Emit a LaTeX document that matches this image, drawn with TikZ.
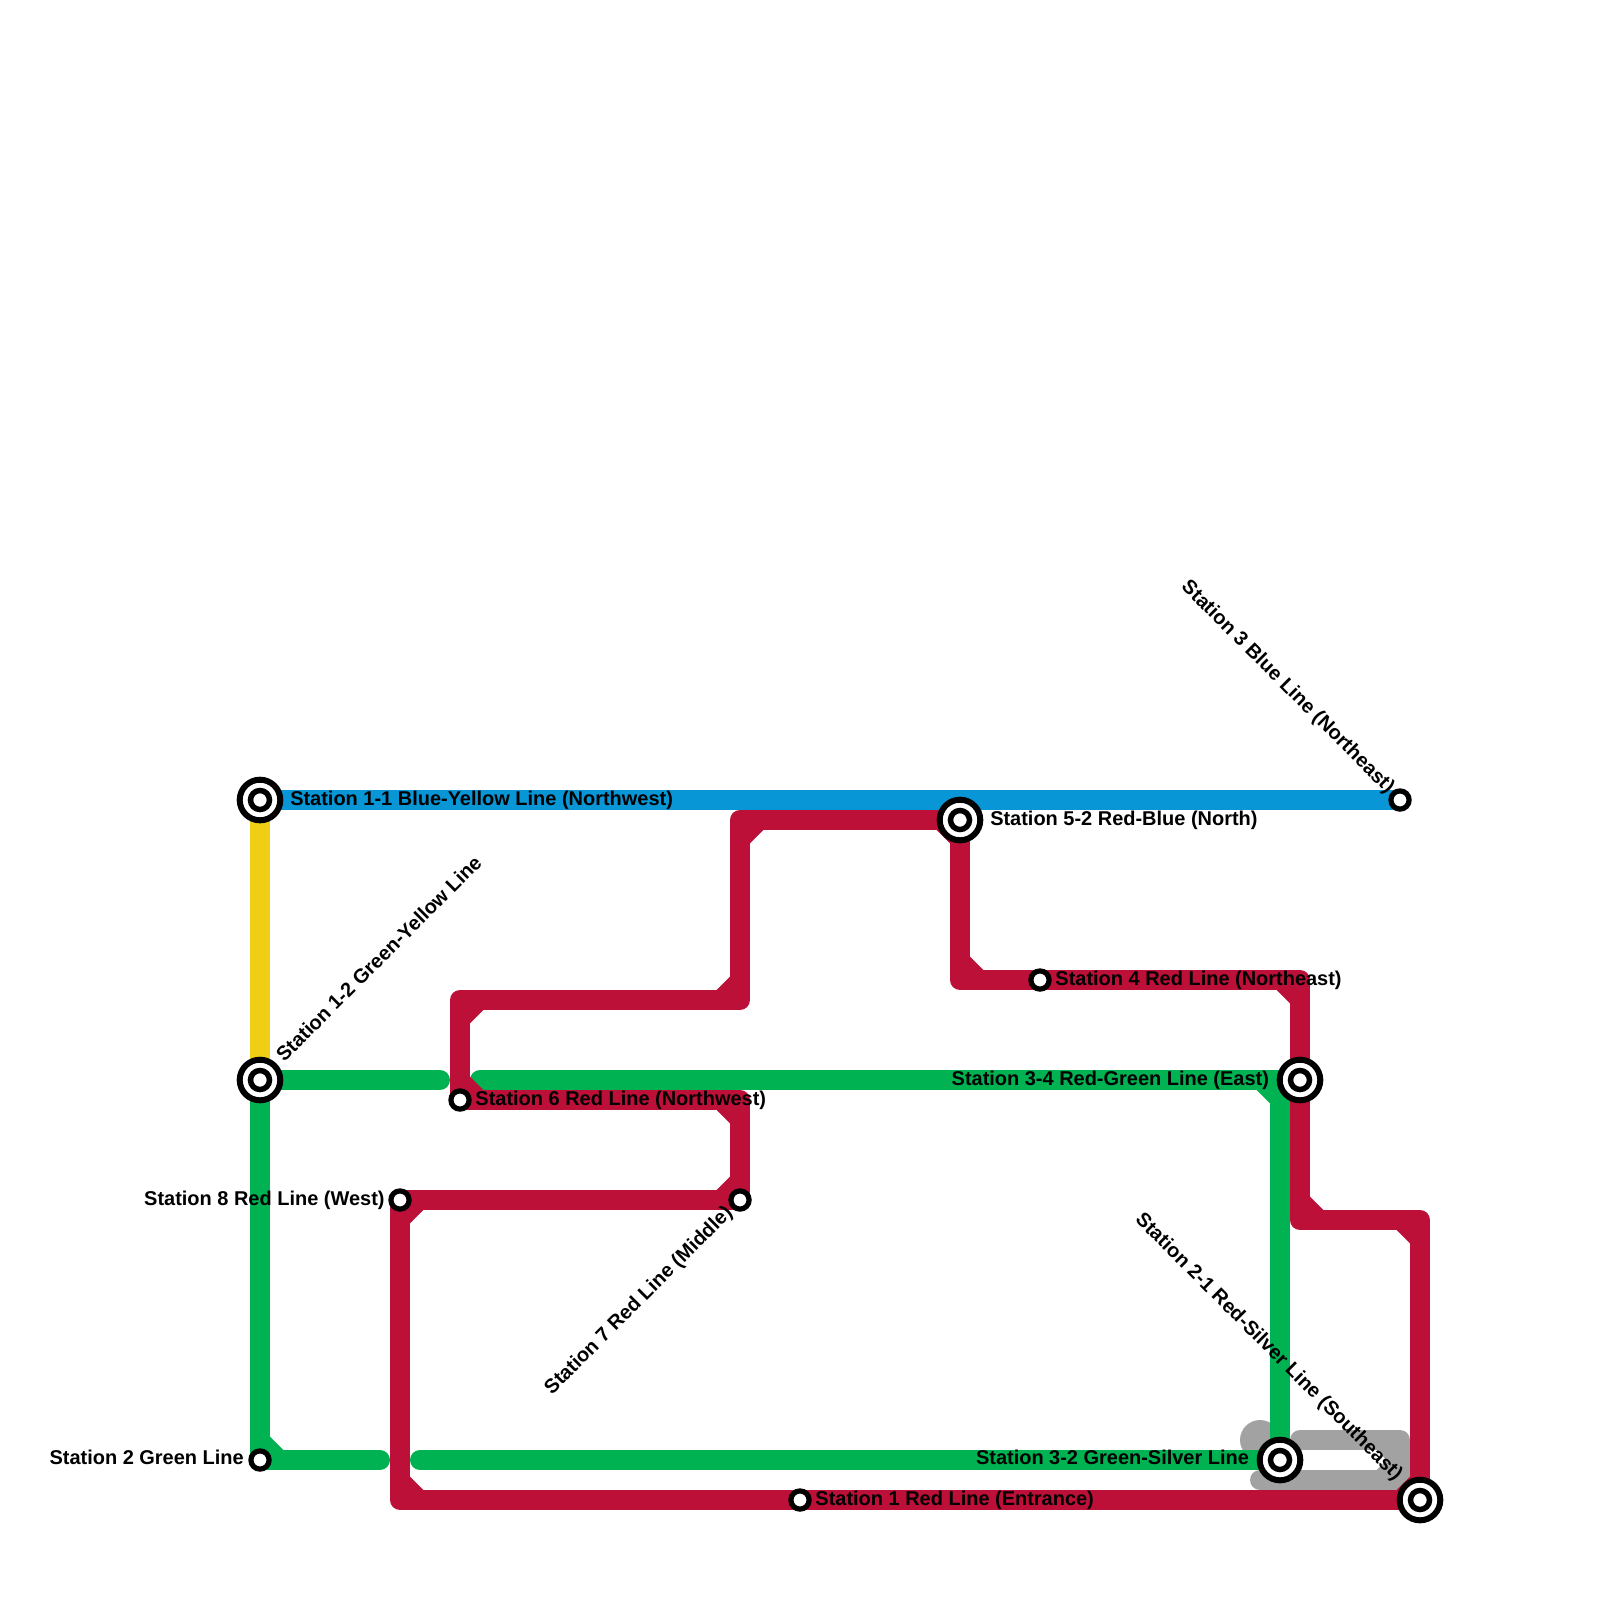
\documentclass[tikz,border=0pt]{standalone}
\usepackage{fontspec}
\setmainfont{Liberation Sans}
\usetikzlibrary{positioning,backgrounds}

\begin{document}
\begin{tikzpicture}[x=.25cm,y=-.25cm]
\definecolor{redline}{HTML}{BD1038}
\definecolor{greenline}{HTML}{00B251}
\definecolor{blueline}{HTML}{0896D7}
\definecolor{yellowline}{HTML}{F0CE15}
\definecolor{silverline}{HTML}{A2A2A2}
\tikzstyle{route}=[line width=.25cm, line join=round, line cap=round]
\tikzstyle{hub}=[circle, draw=black, fill=white, inner sep=0pt, line width=.075cm, minimum size=.5075cm, path picture={\draw[black, line width=.0688cm] (path picture bounding box.center) circle (.1188cm);}]
\tikzstyle{halt}=[circle, draw=black, fill=white, inner sep=0pt, line width=.065cm, minimum size=.2275cm]
\tikzstyle{lbl}=[inner sep=0pt, font=\fontsize{7.1pt}{8.5pt}\selectfont\bfseries]
\useasboundingbox (0,0) rectangle (80,80);
\node[hub] (s11) at (13,40) {};
\node[hub] (s12) at (13,54) {};
\node[hub] (s5) at (48,41) {};
\node[hub] (s34) at (65,54) {};
\node[hub] (s32) at (64,73) {};
\node[hub] (s21) at (71,75) {};
\node[halt] (s2) at (13,73) {};
\node[halt] (s8) at (20,60) {};
\node[halt] (s6) at (23,55) {};
\node[halt] (s7) at (37,60) {};
\node[halt] (s1) at (40,75) {};
\node[halt] (s4) at (52,49) {};
\node[halt] (s3) at (70,40) {};
\coordinate (greenA) at (22,54);
\coordinate (greenB) at (24,54);
\coordinate (greenC) at (19,73);
\coordinate (greenD) at (21,73);
\coordinate (turnA) at (37,50);
\coordinate (turnB) at (71,61);
\coordinate (silverA) at (65,72);
\coordinate (silverB) at (70,74);
\coordinate (silverC) at (63,74);
\begin{scope}[on background layer]
\node[circle, fill=silverline, inner sep=0pt, minimum size=.5cm] (blob) at (63,72) {};
\draw[route, silverline] (silverA) -| (silverB) -- (silverC);
\foreach \cx/\cy/\dx/\dy in {70/72/-1/1, 70/74/-1/-1}
  \fill[silverline] (\cx+.5*\dx,\cy+.5*\dy) -- ++(.67*\dx,0) -- ++(-.67*\dx,.67*\dy) -- cycle;
\draw[route, yellowline] (s11.center) -- (s12.center);
\draw[route, greenline] (greenA) -- (s12.center) |- (greenC);
\draw[route, greenline] (greenB) -| (s32.center);
\draw[route, greenline] (greenD) -- (s32.center);
\foreach \cx/\cy/\dx/\dy in {13/73/1/-1, 64/54/-1/1}
  \fill[greenline] (\cx+.5*\dx,\cy+.5*\dy) -- ++(.67*\dx,0) -- ++(-.67*\dx,.67*\dy) -- cycle;
\draw[route, blueline] (s11.center) -- (s3.center);
\draw[route, redline] (s21.center) -- (s1.center) -| (s8.center) -- (s7.center) |- (s6.center) |- (turnA) |- (s5.center) |- (s4.center) -| (s34.center) |- (turnB) -- (s21.center);
% inner corners of the red line
\foreach \cx/\cy/\dx/\dy in {20/75/1/-1, 20/60/1/1, 37/60/-1/-1, 37/55/-1/1, 23/55/1/-1, 23/50/1/1, 37/50/-1/-1, 37/41/1/1, 48/41/-1/1, 48/49/1/-1, 65/49/-1/1, 65/61/1/-1, 71/61/-1/1, 71/75/-1/-1}
  \fill[redline] (\cx+.5*\dx,\cy+.5*\dy) -- ++(.67*\dx,0) -- ++(-.67*\dx,.67*\dy) -- cycle;
\end{scope}
\node[lbl, right=.08cm of s11] (ls11) {Station 1-1 Blue-Yellow Line (Northwest)};
\node[lbl, rotate=45, anchor=west] (ls12) at (13.95,52.9) {Station 1-2 Green-Yellow Line};
\node[lbl, left=.05cm of s2, yshift=.03cm] (ls2) {Station 2 Green Line};
\node[lbl, left=.04cm of s8] (ls8) {Station 8 Red Line (West)};
\node[lbl, right=.04cm of s6] (ls6) {Station 6 Red Line (Northwest)};
\node[lbl, rotate=45, anchor=east] (ls7) at (36.5,60.5) {Station 7 Red Line (Middle)};
\node[lbl, right=.04cm of s1] (ls1) {Station 1 Red Line (Entrance)};
\node[lbl, right=.08cm of s5] (ls5) {Station 5-2 Red-Blue (North)};
\node[lbl, right=.04cm of s4] (ls4) {Station 4 Red Line (Northeast)};
\node[lbl, left=.09cm of s34] (ls34) {Station 3-4 Red-Green Line (East)};
\node[lbl, left=.09cm of s32, yshift=.03cm] (ls32) {Station 3-2 Green-Silver Line};
\node[lbl, rotate=-45, anchor=east] (ls21) at (69.95,73.9) {Station 2-1 Red-Silver Line (Southeast)};
\node[lbl, rotate=-45, anchor=east] (ls3) at (69.55,39.55) {Station 3 Blue Line (Northeast)};
\end{tikzpicture}
\end{document}
